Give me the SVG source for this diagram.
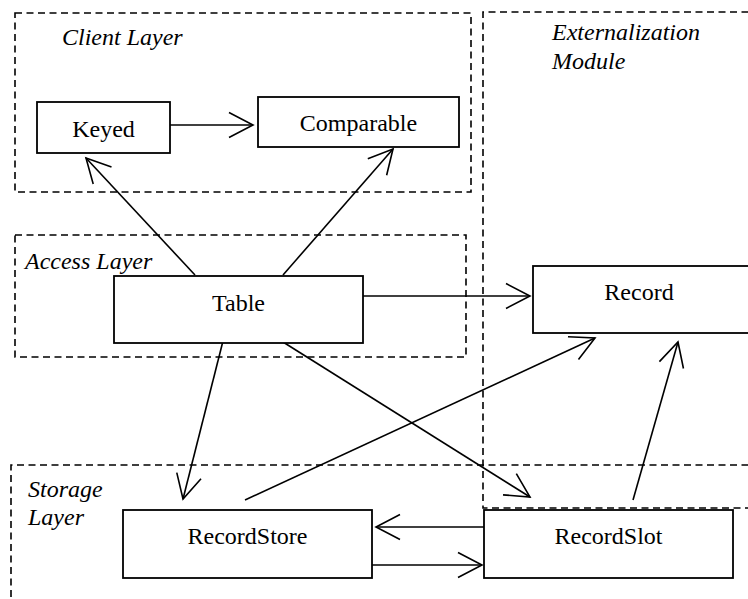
<svg xmlns="http://www.w3.org/2000/svg" width="748" height="599" viewBox="0 0 748 599">
<style>
  .bg{fill:#fff}
  .layer{fill:none;stroke:#000;stroke-width:1.6;stroke-dasharray:7 4.5}
  .box{fill:#fff;stroke:#000;stroke-width:1.8}
  .lbl{font-family:"Liberation Serif","Times New Roman",serif;font-size:24px;fill:#000;text-anchor:middle}
  .ttl{font-family:"Liberation Serif","Times New Roman",serif;font-size:24px;font-style:italic;fill:#000}
  .edge{fill:none;stroke:#000;stroke-width:1.6;marker-end:url(#arr)}
</style>
<defs>
  <marker id="arr" markerUnits="userSpaceOnUse" viewBox="-26 -14 28 28" refX="0" refY="0" markerWidth="28" markerHeight="28" orient="auto" overflow="visible">
    <path d="M-24,-12.5 L0,0 L-24,12.5" fill="none" stroke="#000" stroke-width="1.6"/>
  </marker>
</defs>
<rect class="bg" x="0" y="0" width="748" height="599"/>
<g id="layers">
  <g id="client-layer">
    <rect class="layer" x="15" y="13" width="456" height="179"/>
    <text class="ttl" x="62" y="45">Client Layer</text>
  </g>
  <g id="externalization-module">
    <path class="layer" d="M760,12 L483,12 L483,508 L760,508"/>
    <text class="ttl" x="552" y="40">Externalization</text>
    <text class="ttl" x="552" y="69">Module</text>
  </g>
  <g id="access-layer">
    <rect class="layer" x="15" y="235" width="451" height="122"/>
    <text class="ttl" x="25" y="269">Access Layer</text>
  </g>
  <g id="storage-layer">
    <path class="layer" d="M760,465 L11,465 L11,610"/>
    <text class="ttl" x="28" y="497">Storage</text>
    <text class="ttl" x="28" y="525">Layer</text>
  </g>
</g>
<g id="connectors">
  <line class="edge" x1="170" y1="125" x2="253" y2="125"/>
  <line class="edge" x1="195" y1="275" x2="86" y2="158"/>
  <line class="edge" x1="283" y1="275" x2="393" y2="149"/>
  <line class="edge" x1="363" y1="296" x2="530" y2="296"/>
  <line class="edge" x1="223" y1="341" x2="183" y2="499"/>
  <line class="edge" x1="283" y1="342" x2="530" y2="497"/>
  <line class="edge" x1="245" y1="500" x2="595" y2="338"/>
  <line class="edge" x1="633" y1="500" x2="678" y2="342"/>
  <line class="edge" x1="484" y1="527" x2="376" y2="527"/>
  <line class="edge" x1="372" y1="565" x2="482" y2="565"/>
</g>
<g id="keyed">
  <rect class="box" x="37" y="102" width="133" height="51"/>
  <text class="lbl" x="103.5" y="137">Keyed</text>
</g>
<g id="comparable">
  <rect class="box" x="258" y="97" width="201" height="50"/>
  <text class="lbl" x="358.5" y="131">Comparable</text>
</g>
<g id="table">
  <rect class="box" x="114" y="276" width="249" height="67"/>
  <text class="lbl" x="238.5" y="311">Table</text>
</g>
<g id="record">
  <rect class="box" x="533" y="266" width="230" height="67"/>
  <text class="lbl" x="639" y="300">Record</text>
</g>
<g id="recordstore">
  <rect class="box" x="123" y="510" width="249" height="68"/>
  <text class="lbl" x="247.5" y="544">RecordStore</text>
</g>
<g id="recordslot">
  <rect class="box" x="484" y="510" width="249" height="68"/>
  <text class="lbl" x="608.5" y="544">RecordSlot</text>
</g>
</svg>
